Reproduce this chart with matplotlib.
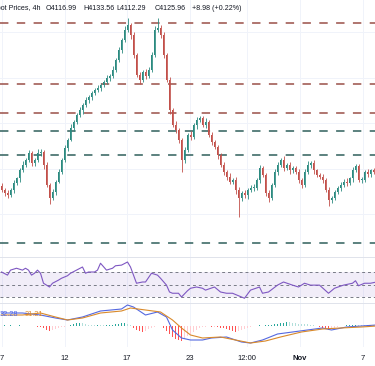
import numpy as np
import matplotlib
matplotlib.use('Agg')
import matplotlib.pyplot as plt

plt.rcParams['font.family'] = ['Liberation Sans', 'DejaVu Sans']

# 4h candles, closes
closes = [3955, 3947, 3942, 3955, 3972, 3984, 4004, 4017, 4029, 4046,
          4021, 4029, 4046, 4049, 4017, 3967, 3935, 3950, 3975, 4000,
          4029, 4059, 4079, 4108, 4123, 4140, 4153, 4165, 4177, 4185,
          4195, 4202, 4207, 4215, 4222, 4232, 4237, 4252, 4276, 4301,
          4326, 4351, 4363, 4338, 4289, 4239, 4227, 4247, 4237, 4252,
          4289, 4351, 4356, 4338, 4289, 4227, 4153, 4116, 4103, 4079,
          4029, 4054, 4091, 4086, 4116, 4128, 4133, 4116, 4123, 4091,
          4074, 4061, 4041, 4017, 4000, 3987, 3975, 3980, 3955, 3935,
          3947, 3942, 3955, 3960, 3960, 3980, 4009, 3992, 3947, 3935,
          3967, 4000, 4017, 4029, 4009, 4017, 4004, 4009, 4000, 3980,
          3967, 4000, 4017, 4022, 4004, 3992, 3987, 3980, 3955, 3930,
          3935, 3950, 3960, 3967, 3975, 3972, 3984, 4004, 4014, 3980,
          3980, 4000, 3994, 4004, 4000, 4004]
first_open = 3965
wick_hi = [6,4,8,5,7,4,6,9,5,8, 6,5,10,7,4,6,5,8,4,6, 5,7,4,9,6,5,8,4,7,5,
           6,4,8,5,6,7,4,9,6,8, 5,10,18,6,9,5,7,4,8,6, 7,9,25,6,8,5,7,4,9,6,
           5,8,6,10,5,7,4,6,9,5, 8,4,6,5,7,5,9,4,6,8, 5,7,4,6,9,5,8,6,4,7,
           5,6,8,4,9,5,7,6,4,8, 5,6,9,5,7,4,6,8,5,7, 4,6,5,8,6,9,4,7,5,6,
           8,5,7,4,6,5]
wick_lo = [5,8,6,4,7,5,9,4,6,5, 8,6,5,7,9,6,15,5,7,4, 6,5,8,4,7,6,5,9,4,6,
           7,5,4,8,6,5,7,4,6,5, 8,6,5,9,7,5,10,6,8,5, 6,4,5,7,8,6,9,5,7,7,
           29,8,5,7,4,9,6,5,8,6, 7,5,9,6,8,7,5,6,10,47, 8,6,9,5,7,6,8,5,7,9,
           6,5,8,6,7,5,9,6,5,7, 8,6,5,7,9,6,5,8,6,15, 7,5,6,8,5,7,6,9,5,6,
           7,5,8,6,5,7]

# support / resistance levels
res_levels = [4368, 4217, 4145]
sup_levels = [4101, 4041, 3824]

# RSI (sampled along the line)
rsi_pos = [0,2,3,5,7,8,9,10,11,12, 13,14,16,17,19,20,22,23,25,27,
           28,29,31,32,33,35,37,38,40,42, 43,45,47,48,50,52,53,55,56,57,
           59,60,62,63,65,67,68,71,73,75, 77,79,81,83,86,87,89,92,94,97,
           99,101,103,106,109,111,114,117,118,119, 121,123,125]
rsi_val = [70,65,73,76,73,76,73,65,68,73, 68,52,46,52,57,60,64,68,73,78,
           68,70,70,73,84,73,76,80,81,86, 78,52,54,54,68,65,60,49,38,36,
           36,30,40,44,46,44,41,46,38,36, 36,32,28,41,46,36,38,49,54,49,
           46,52,49,49,36,44,49,52,56,48, 52,52,54]

# MACD
macd_pos = [0,7,13,18,22,27,33,40,42,44,48,52,55,57,60,63,67,70,75,80,
            83,87,92,97,102,107,110,115,120,125]
macd_val = [52,52,44,32,24,36,60,68,84,76,44,56,36,-16,-48,-56,-56,-48,-44,-64,
            -68,-56,-32,-24,-16,-8,-16,-4,0,4]
sig_pos = [0,7,13,18,22,27,33,40,43,48,53,57,60,63,67,73,78,83,88,93,
           100,107,113,120,125]
sig_val = [44,44,52,36,24,32,52,60,72,64,56,24,-8,-36,-48,-44,-56,-68,-60,-44,
           -24,-12,-8,-4,0]
hist = [2,3,2,3,2,2,3,2,2,1,2,1,
        -2,-5,-9,-14,-18,-16,-12,
        -8,-5,-2,1,
        4,8,12,14,12,9,
        6,5,4,5,4,3,4,5,6,7,9,
        12,14,10,4,
        -6,-14,-20,-22,-18,-12,-6,
        -2,2,-1,
        -8,-18,-30,-42,-50,-56,-60,-52,-40,
        -30,-22,-14,-8,-4,
        -2,-1,-3,-2,-4,-6,
        -8,-12,-16,-20,-24,-20,-14,-10,
        -6,-3,-1,2,3,2,3,
        4,6,8,10,12,14,16,15,13,12,10,9,8,7,5,
        3,1,-2,
        -6,-10,-14,-12,-8,-4,
        1,2,3,4,5,6,5,4,4,5,6,5,4]

tick_pos = [0.2, 21.2, 41.8, 62.8, 81.8, 99.5, 120.5]
tick_lab = ['7', '12', '17', '23', '12:00', 'Nov', '7']
grid_prices = [4345, 4232, 4120, 4007, 3895]

up_col = '#2b8a80'
dn_col = '#c2504a'
grid_col = '#f0f3fa'

W, H = 375, 366
fig = plt.figure(figsize=(W/100., H/100.), dpi=100)
def rect(top, bot):
    return [0, (H-bot)/float(H), 1, (bot-top)/float(H)]

ax = fig.add_axes(rect(0, 257))
ax_rsi = fig.add_axes(rect(257, 303), sharex=ax)
ax_macd = fig.add_axes(rect(303, 347), sharex=ax)

# candles
c = np.array(closes, dtype=float)
o = np.concatenate([[first_open], c[:-1]])
hi = np.maximum(o, c) + np.array(wick_hi)
lo = np.minimum(o, c) - np.array(wick_lo)
idx = np.arange(len(c))
cols = [up_col if cc >= oo else dn_col for oo, cc in zip(o, c)]
ax.vlines(idx, lo, hi, colors=cols, lw=0.6, zorder=3)
body = np.maximum(np.abs(c-o), 1.0)
ax.bar(idx, body, bottom=np.minimum(o, c), width=0.65, color=cols, lw=0, zorder=4)

for p in res_levels:
    ax.axhline(p, color='#9a4f48', lw=1.1, dashes=(5.5, 5.5), zorder=2)
for p in sup_levels:
    ax.axhline(p, color='#2f5f5b', lw=1.1, dashes=(5.5, 5.5), zorder=2)

ax.set_ylim(3789, 4425)
ax.set_xlim(-0.5, 124.5)
ax.set_yticks(grid_prices)

# RSI
ax_rsi.axhspan(30, 70, color='#7e57c2', alpha=0.1, lw=0)
for lv in [70, 50, 30]:
    ax_rsi.axhline(lv, color='#787b86', lw=0.7, dashes=(3, 3))
ax_rsi.plot(rsi_pos, rsi_val, color='#7e57c2', lw=0.8)
ax_rsi.set_ylim(20.4, 94)
ax_rsi.set_yticks([])

# MACD
hcols = []
prev = 0
for h in hist:
    if h >= 0:
        hcols.append('#26a69a' if h > prev else '#b2dfdb')
    else:
        hcols.append('#ffcdd2' if h > prev else '#ff5252')
    prev = h
ax_macd.bar(np.arange(len(hist)), hist, width=0.6, color=hcols, lw=0)
ax_macd.plot(macd_pos, macd_val, color='#5468e0', lw=0.8)
ax_macd.plot(sig_pos, sig_val, color='#d98a2b', lw=0.8)
ax_macd.set_ylim(-84, 92)
ax_macd.set_yticks([])
ax_macd.text(0.0, 0.74, '32.28', transform=ax_macd.transAxes, color='#4a63e8',
             fontsize=5.3, va='center', ha='left', zorder=5)
ax_macd.text(25/375., 0.74, '31.21', transform=ax_macd.transAxes, color='#e08a2a',
             fontsize=5.3, va='center', ha='left', zorder=5)

for a in [ax, ax_rsi, ax_macd]:
    a.set_xticks(tick_pos)
    a.grid(True, color=grid_col, lw=0.7)
    a.set_axisbelow(True)
    for s in ['left', 'right', 'bottom']:
        a.spines[s].set_visible(False)
    a.spines['top'].set_color('#e0e3eb')
    a.spines['top'].set_linewidth(0.7)
    a.tick_params(axis='both', length=0, labelleft=False)
ax.spines['top'].set_visible(False)
ax.tick_params(labelbottom=False)
ax_rsi.tick_params(labelbottom=False)
ax_macd.set_xticklabels(tick_lab)
ax_macd.tick_params(axis='x', labelsize=5.5, labelcolor='#131722', pad=6)
for t in ax_macd.get_xticklabels():
    if t.get_text() == 'Nov':
        t.set_fontweight('bold')

# legend header
hdr = [('Spot Prices, 4h', -8, '#131722'), ('O4116.99', 46, '#131722'),
       ('H4133.56', 83, '#131722'), ('L4112.29', 116, '#131722'),
       ('C4125.96', 155, '#131722'), ('+8.98 (+0.22%)', 192, '#131722')]
for s, xp, col in hdr:
    fig.text(xp/float(W), 1-8/float(H), s, fontsize=5.1, color=col, va='center', ha='left')

fig.savefig('out.png', dpi=100)
